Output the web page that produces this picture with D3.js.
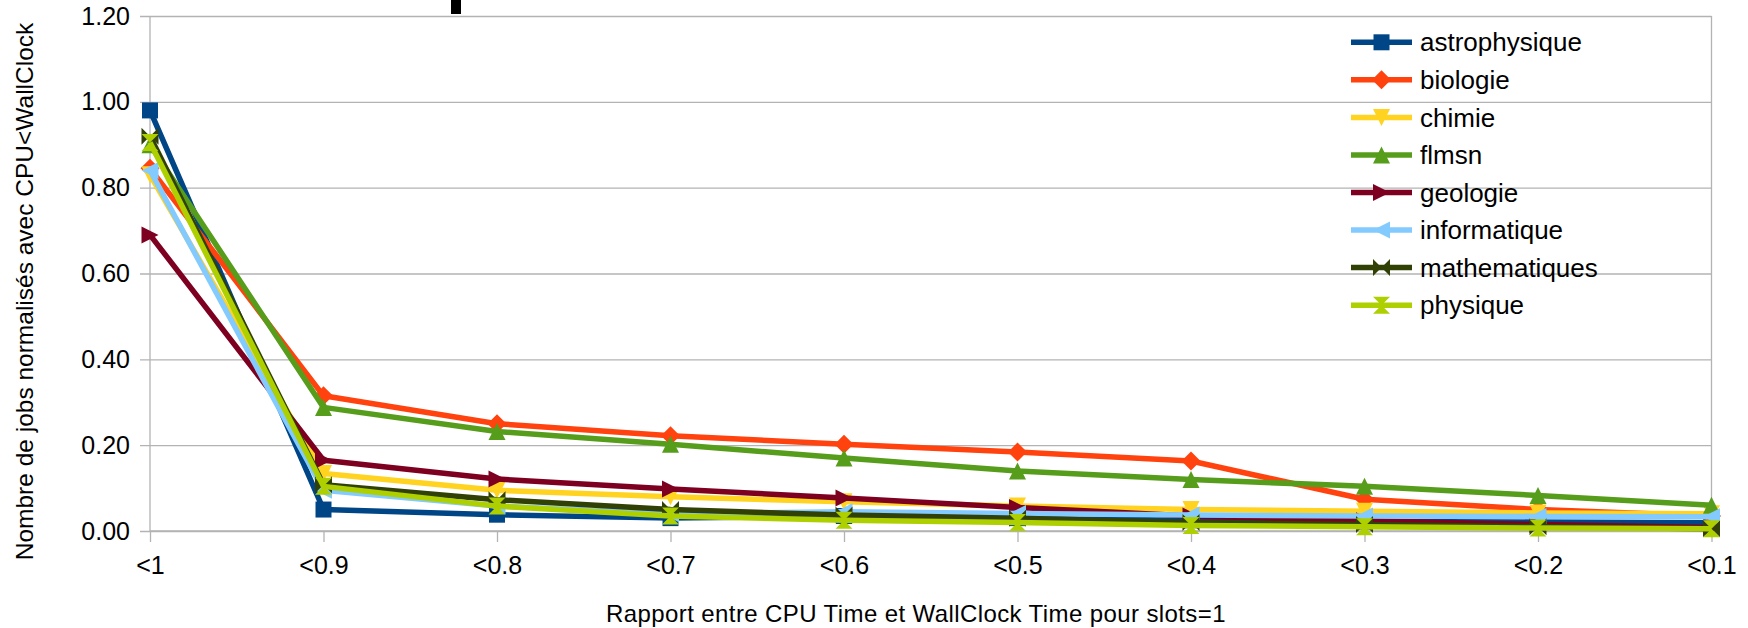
<!DOCTYPE html>
<html>
<head>
<meta charset="utf-8">
<script src="https://cdn.jsdelivr.net/npm/d3@7/dist/d3.min.js"></script>
<style>
  html, body { margin: 0; padding: 0; background: #fff; }
  svg { display: block; }
  text { font-family: "Liberation Sans", Arial, sans-serif; fill: #000; }
</style>
</head>
<body>
<svg id="chart" width="1748" height="628"></svg>
<script>
// ---- Data ----
const categories = ["<1", "<0.9", "<0.8", "<0.7", "<0.6", "<0.5", "<0.4", "<0.3", "<0.2", "<0.1"];
const seriesNames = ["astrophysique", "biologie", "chimie", "flmsn", "geologie", "informatique", "mathematiques", "physique"];
const astrophysique = [0.98, 0.050, 0.038, 0.030, 0.035, 0.030, 0.025, 0.022, 0.021, 0.019];
const biologie      = [0.845, 0.315, 0.250, 0.222, 0.202, 0.184, 0.163, 0.074, 0.050, 0.035];
const chimie        = [0.83, 0.134, 0.095, 0.080, 0.068, 0.058, 0.050, 0.046, 0.042, 0.040];
const flmsn         = [0.90, 0.288, 0.232, 0.202, 0.170, 0.140, 0.120, 0.104, 0.083, 0.060];
const geologie      = [0.69, 0.165, 0.121, 0.098, 0.077, 0.055, 0.035, 0.024, 0.015, 0.008];
const informatique  = [0.84, 0.095, 0.058, 0.040, 0.045, 0.041, 0.037, 0.035, 0.034, 0.033];
const mathematiques = [0.92, 0.108, 0.073, 0.050, 0.037, 0.030, 0.020, 0.015, 0.010, 0.005];
const physique      = [0.905, 0.104, 0.058, 0.035, 0.025, 0.020, 0.013, 0.010, 0.007, 0.005];
const yTicks = [0, 0.2, 0.4, 0.6, 0.8, 1.0, 1.2];
const yTitle = "Nombre de jobs normalisés avec CPU<WallClock";
const xTitle = "Rapport entre CPU Time et WallClock Time pour slots=1";

const seriesValues = [astrophysique, biologie, chimie, flmsn, geologie, informatique, mathematiques, physique];

// ---- Styles ----
const colors = ["#004586", "#ff420e", "#ffd320", "#579d1c", "#7e0021", "#83caff", "#314004", "#aecf00"];
const shapes = ["square", "diamond", "down", "up", "right", "left", "bowtie", "hourglass"];

const ms = 8.5;
function markerPath(shape) {
  const p = d3.path();
  const poly = pts => { p.moveTo(pts[0][0], pts[0][1]); pts.slice(1).forEach(q => p.lineTo(q[0], q[1])); p.closePath(); };
  switch (shape) {
    case "square": poly([[-8, -8], [8, -8], [8, 8], [-8, 8]]); break;
    case "diamond": poly([[0, -9.5], [9.5, 0], [0, 9.5], [-9.5, 0]]); break;
    case "down": poly([[-ms, -ms], [ms, -ms], [0, ms]]); break;
    case "up": poly([[-ms, ms], [ms, ms], [0, -ms]]); break;
    case "right": poly([[-ms, -ms], [ms, 0], [-ms, ms]]); break;
    case "left": poly([[ms, -ms], [-ms, 0], [ms, ms]]); break;
    case "bowtie": poly([[-ms, -ms], [0, 0], [-ms, ms]]); poly([[ms, -ms], [0, 0], [ms, ms]]); break;
    case "hourglass": poly([[-ms, -ms], [ms, -ms], [0, 0]]); poly([[-ms, ms], [ms, ms], [0, 0]]); break;
  }
  return p.toString();
}

// ---- Layout ----
const svg = d3.select("#chart");
const plotL = 150, plotR = 1711.5, plotT = 16, plotB = 531;
const x = d3.scalePoint().domain(categories).range([plotL, plotR]).padding(0);
const y = d3.scaleLinear().domain([0, 1.2]).range([plotB, plotT]);
const gridColor = "#b3b3b3";

// decoration at top (cropped title remnant)
svg.append("rect").attr("x", 451).attr("y", 0).attr("width", 10).attr("height", 14).attr("fill", "#000");

// y axis with grid
const yAxis = d3.axisLeft(y).tickValues(yTicks).tickFormat(d3.format(".2f"))
  .tickSize(-(plotR - plotL)).tickPadding(10);
const yg = svg.append("g").attr("transform", `translate(${plotL},0)`).call(yAxis);
yg.select(".domain").remove();
yg.selectAll(".tick line").attr("stroke", gridColor).attr("stroke-width", 1.3).attr("x1", -10);
yg.selectAll(".tick text").attr("font-size", 25).attr("x", -20).attr("font-family", "Liberation Sans, Arial, sans-serif").attr("fill", "#000");

// plot border lines (left and right)
svg.append("line").attr("x1", plotL).attr("x2", plotL).attr("y1", plotT).attr("y2", plotB).attr("stroke", gridColor).attr("stroke-width", 1.3);
svg.append("line").attr("x1", plotR).attr("x2", plotR).attr("y1", plotT).attr("y2", plotB).attr("stroke", gridColor).attr("stroke-width", 1.3);

// x axis
const xAxis = d3.axisBottom(x).tickSize(11).tickPadding(14);
const xg = svg.append("g").attr("transform", `translate(0,${plotB})`).call(xAxis);
xg.select(".domain").attr("stroke", gridColor).attr("stroke-width", 1.3).attr("d", `M${plotL},0H${plotR}`);
xg.selectAll(".tick line").attr("stroke", gridColor).attr("stroke-width", 1.3);
xg.selectAll(".tick text").attr("font-size", 25).attr("font-family", "Liberation Sans, Arial, sans-serif").attr("fill", "#000");

// series
const line = d3.line().x((d, i) => x(categories[i])).y(d => y(d));
seriesValues.forEach((vals, k) => {
  const g = svg.append("g");
  g.append("path").attr("d", line(vals)).attr("fill", "none").attr("stroke", colors[k])
    .attr("stroke-width", 5.5).attr("stroke-linejoin", "round");
  g.selectAll("path.m").data(vals).enter().append("path").attr("class", "m")
    .attr("d", markerPath(shapes[k]))
    .attr("transform", (d, i) => `translate(${x(categories[i])},${y(d)})`)
    .attr("fill", colors[k]);
});

// legend
const leg = svg.append("g");
const legY0 = 42.3, legStep = 37.55;
seriesNames.forEach((name, k) => {
  const cy = legY0 + k * legStep;
  leg.append("line").attr("x1", 1351).attr("x2", 1412).attr("y1", cy).attr("y2", cy)
    .attr("stroke", colors[k]).attr("stroke-width", 5.5);
  leg.append("path").attr("d", markerPath(shapes[k])).attr("transform", `translate(1381.5,${cy})`).attr("fill", colors[k]);
  leg.append("text").attr("x", 1420).attr("y", cy).attr("dy", "0.35em").attr("font-size", 26).text(name);
});

// axis titles
svg.append("text").attr("transform", "translate(33,291.5) rotate(-90)").attr("text-anchor", "middle")
  .attr("font-size", 24.5).text(yTitle);
svg.append("text").attr("x", 916).attr("y", 622).attr("text-anchor", "middle")
  .attr("font-size", 24).attr("letter-spacing", 0.4).text(xTitle);
</script>
</body>
</html>
